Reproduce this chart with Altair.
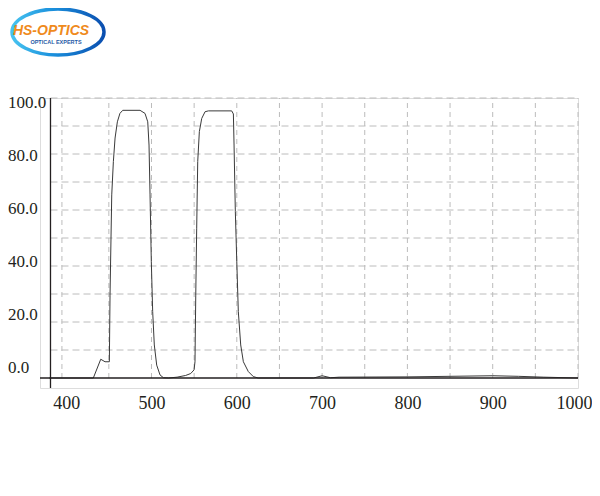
import altair as alt
import pandas as pd

# ---- data ----
wavelength = [380, 431.8, 440.5, 445.5, 450.6, 451.4, 453.4, 455.3, 457.3, 460, 463, 466.3,
              486.6, 492.4, 495.6, 497.1, 498.3, 499.8, 501.4, 503.3, 506.1, 510, 514,
              520, 530, 540, 546, 549.9, 551, 551.9, 553, 554.2, 556.1, 558.9, 562.8, 566.7,
              594, 596, 596.8, 598.3, 600, 601.8, 604.6, 607.7, 613.5, 619.4, 625,
              690, 700, 710, 720, 800, 850, 900, 930, 960, 1000]
transmission = [0, 0, 6.7, 5.8, 5.8, 29.6, 65.4, 77.3, 85.7, 91.5, 94.5, 95.6,
                95.6, 94.5, 91.5, 83.2, 65.4, 41.5, 23.7, 11.8, 4.6, 1.1, 0.1,
                0, 0.3, 0.9, 1.6, 2.9, 5.8, 29.6, 53.5, 77.3, 88, 92.7, 95.1, 95.4,
                95.4, 94.3, 83.2, 59.4, 41.5, 23.7, 11.8, 5.8, 2.3, 0.5, 0,
                0, 0.8, 0.1, 0.3, 0.4, 0.6, 0.8, 0.6, 0.3, 0]

x_tick_values = [400, 500, 600, 700, 800, 900, 1000]
y_tick_values = [0, 20, 40, 60, 80, 100]
h_grid = [10, 20, 30, 40, 50, 60, 70, 80, 90, 100]
v_grid = [395, 450, 500, 550, 600, 650, 700, 750, 800, 850, 900, 950, 1000]

x_min, x_max = 369.3, 1000
y_min, y_max = -3.57, 100
y_axis_at = 381.6

logo_title = "HS-OPTICS"
logo_sub = "OPTICAL EXPERTS"

FONT = "Liberation Serif"

xs = alt.Scale(domain=[x_min, x_max], nice=False, zero=False)
ys = alt.Scale(domain=[y_min, y_max], nice=False, zero=False)

x_axis = alt.Axis(
    values=x_tick_values, format="d", grid=False, domain=False, ticks=False,
    labelFont=FONT, labelFontSize=18, labelColor="#231f20", labelPadding=6,
    labelFlush=1, labelFlushOffset=14, labelOverlap=False, title=None)

spec_df = pd.DataFrame({"wl": wavelength, "T": transmission})

# horizontal grid
hgrid = alt.Chart(pd.DataFrame({"v": h_grid})).transform_calculate(
    x0=str(y_axis_at), x1=str(x_max)
).mark_rule(color="#bcbcbc", strokeDash=[7, 4], strokeWidth=1).encode(
    x=alt.X("x0:Q", scale=xs, axis=x_axis),
    x2="x1:Q",
    y=alt.Y("v:Q", scale=ys, axis=None),
)

# vertical grid
vgrid = alt.Chart(pd.DataFrame({"v": v_grid})).transform_calculate(
    y0="0", y1="100"
).mark_rule(color="#bcbcbc", strokeDash=[5, 4], strokeWidth=1).encode(
    x=alt.X("v:Q", scale=xs, axis=x_axis),
    y=alt.Y("y0:Q", scale=ys, axis=None),
    y2="y1:Q",
)

# spectrum curve
curve = alt.Chart(spec_df).mark_line(color="#3a3a3a", strokeWidth=1).encode(
    x=alt.X("wl:Q", scale=xs, axis=x_axis),
    y=alt.Y("T:Q", scale=ys, axis=None),
)

# axis lines (crossing style)
yaxis_line = alt.Chart(pd.DataFrame({"x": [y_axis_at], "a": [y_min], "b": [y_max]})).mark_rule(
    color="#231f20", strokeWidth=1.3).encode(
    x=alt.X("x:Q", scale=xs, axis=x_axis),
    y=alt.Y("a:Q", scale=ys, axis=None),
    y2="b:Q",
)
xaxis_line = alt.Chart(pd.DataFrame({"y": [0], "a": [x_min], "b": [x_max]})).mark_rule(
    color="#231f20", strokeWidth=1.3).encode(
    y=alt.Y("y:Q", scale=ys, axis=None),
    x=alt.X("a:Q", scale=xs, axis=x_axis),
    x2="b:Q",
)

# y labels (sit slightly off their grid lines as in the reference)
ylabels = alt.Chart(pd.DataFrame({"v": y_tick_values})).transform_calculate(
    label="format(datum.v, '.1f')", pos="3.6 + 0.946 * datum.v"
).mark_text(align="left", baseline="middle", font=FONT, fontSize=17, color="#231f20").encode(
    x=alt.value(-32),
    y=alt.Y("pos:Q", scale=ys, axis=None),
    text="label:N",
)

# logo
one = pd.DataFrame({"k": [0]})
ring = alt.LinearGradient(
    gradient="linear", x1=0, y1=0.5, x2=1, y2=0.5,
    stops=[alt.GradientStop(color="#47c3f0", offset=0),
           alt.GradientStop(color="#1a8fdc", offset=0.45),
           alt.GradientStop(color="#0b4fb0", offset=1)],
)
ellipse = "M -1 0 C -1 -0.276 -0.552 -0.5 0 -0.5 C 0.552 -0.5 1 -0.276 1 0 C 1 0.276 0.552 0.5 0 0.5 C -0.552 0.5 -1 0.276 -1 0 Z"
logo_ring = alt.Chart(one).mark_point(
    shape=ellipse, filled=False, stroke=ring, strokeWidth=3.5, fill="white", opacity=1,
    size=8464,
).encode(x=alt.value(18), y=alt.value(-66))
logo_text = alt.Chart(one).mark_text(
    text=logo_title, font="Liberation Sans", fontSize=14, fontStyle="italic",
    fontWeight="bold", color="#ef8a1c", align="center", baseline="middle",
).encode(x=alt.value(11), y=alt.value(-67))
logo_sub_text = alt.Chart(one).mark_text(
    text=logo_sub, font="Liberation Sans", fontSize=5.5, fontWeight="bold",
    color="#1f5aa6", align="center", baseline="middle",
).encode(x=alt.value(16), y=alt.value(-56))

chart = alt.layer(
    hgrid, vgrid, curve, yaxis_line, xaxis_line, ylabels, logo_ring, logo_text, logo_sub_text
).properties(
    width=538, height=290,
    autosize=alt.AutoSizeParams(type="none"),
    padding={"left": 32, "top": 90, "right": 14, "bottom": 40},
).configure_view(stroke=None).configure(background="white")

chart.save("out.html", embed_options={"renderer": "svg", "actions": False})
